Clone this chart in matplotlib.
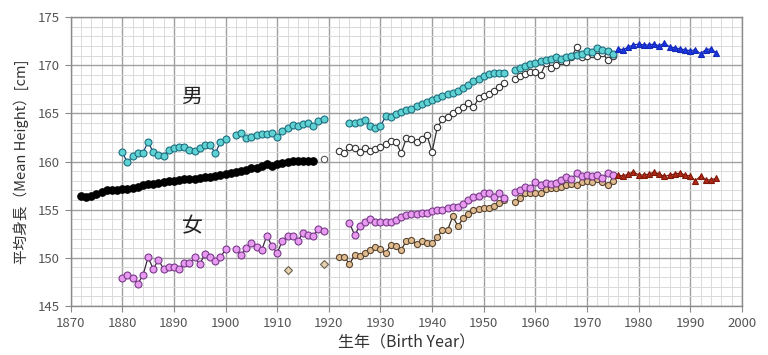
import matplotlib
matplotlib.use("Agg")
import matplotlib.pyplot as plt
from matplotlib.ticker import MultipleLocator

plt.rcParams['font.family'] = ['Noto Sans CJK JP', 'DejaVu Sans']

# ---------------- data ----------------
# Men, black (1872-1917)
m_black_years = list(range(1872, 1918))
m_black = [156.4, 156.3, 156.4, 156.6, 156.8, 157.0, 157.05, 157.05, 157.1, 157.1,
           157.25, 157.4, 157.6, 157.7, 157.7, 157.75, 157.85, 157.95, 158.0, 158.1,
           158.15, 158.2, 158.2, 158.3, 158.35, 158.4, 158.5, 158.6, 158.75, 158.85,
           158.95, 159.0, 159.15, 159.3, 159.35, 159.5, 159.7, 159.5, 159.7, 159.8,
           159.95, 160.1, 160.1, 160.1, 160.05, 160.1]

# Men, cyan (1880-1900, 1902-1919, 1924-1954, 1956-1975)
m_cyan_years_a = list(range(1880, 1901))
m_cyan_a = [160.95, 159.9, 160.6, 160.85, 160.9, 162.05, 160.95, 160.67, 160.6, 161.2,
            161.45, 161.5, 161.5, 161.2, 161.1, 161.4, 161.7, 161.75, 160.85, 162.0, 162.3]
m_cyan_years_b = list(range(1902, 1920))
m_cyan_b = [162.75, 163.0, 162.4, 162.57, 162.75, 162.85, 162.85, 163.0, 162.5, 163.2,
            163.44, 163.8, 163.7, 163.9, 164.0, 163.7, 164.2, 164.45]
m_cyan_years_c = list(range(1924, 1955))
m_cyan_c = [164.05, 164.05, 164.1, 164.35, 163.7, 163.5, 163.65, 164.7, 164.65, 164.93,
            165.17, 165.4, 165.5, 165.76, 165.97, 166.14, 166.38, 166.62, 166.83, 167.0,
            167.14, 167.35, 167.6, 167.94, 168.35, 168.6, 168.9, 169.05, 169.15, 169.2, 169.15]
m_cyan_years_d = list(range(1956, 1976))
m_cyan_d = [169.5, 169.7, 169.9, 170.1, 170.2, 170.4, 170.5, 170.6, 170.9, 170.6,
            170.9, 171.0, 171.1, 171.2, 171.5, 171.4, 171.8, 171.6, 171.5, 171.2]

# Men, open circles (1922-1954, 1956-1975)
m_open_years_a = list(range(1922, 1955))
m_open_a = [161.09, 160.91, 161.53, 161.36, 160.95, 161.36, 161.09, 161.26, 161.53, 161.8,
            162.12, 162.05, 160.85, 162.4, 162.3, 162.05, 162.3, 162.75, 161.0, 163.54,
            164.38, 164.58, 165.0, 165.34, 165.62, 166.1, 165.62, 166.55, 166.8, 166.97,
            167.35, 167.7, 168.18]
m_open_years_b = list(range(1956, 1976))
m_open_b = [168.53, 168.87, 169.08, 169.32, 169.32, 168.98, 170.19, 169.7, 170.0, 170.4,
            170.3, 170.8, 171.9, 170.9, 171.0, 171.2, 171.0, 171.3, 170.5, 171.0]
m_single_year = [1919]
m_single = [160.25]

# Men, blue triangles (1976-1995)
m_tri_years = list(range(1976, 1996))
m_tri = [171.7, 171.6, 171.9, 172.1, 172.2, 172.1, 172.1, 172.2, 172.0, 172.3,
         171.9, 171.8, 171.7, 171.6, 171.5, 171.6, 171.2, 171.6, 171.7, 171.3]

# Women, pink (1880-1900, 1902-1919, 1924-1954, 1956-1975)
w_pink_years_a = list(range(1880, 1901))
w_pink_a = [147.9, 148.2, 147.9, 147.3, 148.2, 150.05, 148.85, 149.8, 148.85, 149.07,
            149.07, 148.8, 149.42, 149.42, 150.05, 149.35, 150.39, 150.05, 149.7, 150.05, 150.88]
w_pink_years_b = list(range(1902, 1920))
w_pink_b = [150.9, 150.3, 150.98, 151.56, 151.08, 150.8, 152.3, 151.2, 150.5, 151.77,
            152.3, 152.27, 151.74, 152.6, 152.4, 152.3, 153.0, 152.8]
w_pink_years_c = list(range(1924, 1955))
w_pink_c = [153.65, 152.36, 153.3, 153.75, 154.0, 153.75, 153.75, 153.75, 153.75, 153.92,
            154.27, 154.44, 154.6, 154.6, 154.68, 154.68, 154.86, 154.96, 154.96, 155.13,
            155.3, 155.3, 155.58, 155.99, 156.34, 156.41, 156.69, 156.75, 156.34, 156.75, 156.17]
w_pink_years_d = list(range(1956, 1976))
w_pink_d = [156.8, 157.0, 157.35, 157.3, 157.85, 157.6, 157.8, 157.7, 157.8, 158.1,
            158.4, 158.2, 158.8, 158.5, 158.6, 158.5, 158.55, 158.3, 158.8, 158.6]

# Women, tan (1922-1954, 1956-1975)
w_tan_years_a = list(range(1922, 1955))
w_tan_a = [150.05, 150.12, 149.35, 150.3, 150.2, 150.46, 150.8, 151.09, 150.88, 150.53,
           151.32, 151.22, 150.8, 151.77, 151.84, 151.43, 151.77, 151.57, 151.5, 152.12,
           152.88, 152.88, 154.3, 153.3, 154.1, 154.6, 154.96, 155.03, 155.13, 155.13,
           155.37, 155.72, 156.0]
w_tan_years_b = list(range(1956, 1976))
w_tan_b = [155.8, 156.17, 156.76, 156.7, 156.76, 156.7, 157.1, 157.2, 157.2, 157.4,
           157.6, 157.7, 157.6, 157.9, 158.0, 157.9, 158.2, 157.9, 157.6, 158.0]
w_single_years = [1912, 1919]
w_single = [148.75, 149.4]

# Women, red triangles (1976-1995)
w_tri_years = list(range(1976, 1996))
w_tri = [158.6, 158.5, 158.7, 158.95, 158.6, 158.6, 158.7, 158.9, 158.7, 158.45,
         158.6, 158.7, 158.8, 158.6, 158.5, 158.0, 158.5, 158.1, 158.1, 158.25]

x_ticks = list(range(1870, 2001, 10))
y_ticks = list(range(145, 176, 5))

# ---------------- plot ----------------
fig = plt.figure(figsize=(7.68, 3.55), dpi=100)
ax = fig.add_axes([0.092, 0.138, 0.874, 0.814])

ax.set_xlim(1870, 2000)
ax.set_ylim(145, 175)
ax.xaxis.set_major_locator(MultipleLocator(10))
ax.xaxis.set_minor_locator(MultipleLocator(2))
ax.yaxis.set_major_locator(MultipleLocator(5))
ax.yaxis.set_minor_locator(MultipleLocator(1))
ax.grid(which='major', color='#a0a0a0', linewidth=1.0, zorder=0)
ax.grid(which='minor', color='#dadada', linewidth=0.7, zorder=0)
ax.set_axisbelow(True)
for s in ax.spines.values():
    s.set_color('#8a8a8a')
    s.set_linewidth(1.0)
ax.tick_params(which='major', direction='out', length=4, color='#8a8a8a',
               labelsize=9.5, labelcolor='#555555', pad=4)
ax.tick_params(which='minor', length=0)
ax.set_xticks(x_ticks)
ax.set_yticks(y_ticks)

ms = 4.6
lw = 0.9

def series(x, y, marker, face, edge, line, size=ms, z=3):
    ax.plot(x, y, color=line, linewidth=lw, marker=marker, markersize=size,
            markerfacecolor=face, markeredgecolor=edge, markeredgewidth=0.8, zorder=z)

# men
series(m_black_years, m_black, 'o', 'black', 'black', 'black', size=5.4, z=4)
for xs, ys in [(m_open_years_a, m_open_a), (m_open_years_b, m_open_b)]:
    series(xs, ys, 'o', 'white', '#333333', '#333333', size=4.6, z=3)
for xs, ys in [(m_cyan_years_a, m_cyan_a), (m_cyan_years_b, m_cyan_b),
               (m_cyan_years_c, m_cyan_c), (m_cyan_years_d, m_cyan_d)]:
    series(xs, ys, 'o', '#5fd3d3', '#1f6f80', '#1f3f70', size=5, z=4)
series(m_single_year, m_single, 'o', 'white', '#555555', '#555555', size=4.6)
series(m_tri_years, m_tri, '^', '#1a35e0', '#1228b8', '#1228b8', size=4.6, z=4)

# women
for xs, ys in [(w_tan_years_a, w_tan_a), (w_tan_years_b, w_tan_b)]:
    series(xs, ys, 'o', '#e0bb90', '#5a4630', '#3a2a1a', size=4.4, z=3)
for xs, ys in [(w_pink_years_a, w_pink_a), (w_pink_years_b, w_pink_b),
               (w_pink_years_c, w_pink_c), (w_pink_years_d, w_pink_d)]:
    series(xs, ys, 'o', '#e89af0', '#7a3a8a', '#3a2a3a', size=5, z=4)
ax.plot(w_single_years, w_single, linestyle='none', marker='D', markersize=3.6,
        markerfacecolor='#e6d2b0', markeredgecolor='#6a6050', markeredgewidth=0.8, zorder=3)
series(w_tri_years, w_tri, '^', '#b02818', '#801808', '#801808', size=4.6, z=4)

ax.text(1893.5, 166.7, '男', fontsize=15, ha='center', va='center', color='#222222')
ax.text(1893.5, 153.3, '女', fontsize=15, ha='center', va='center', color='#222222')

ax.set_xlabel('生年（Birth Year）', fontsize=11.5, color='#333333', labelpad=3)
ax.set_ylabel('平均身長（Mean Height）[cm]', fontsize=10.5, color='#333333', labelpad=6)

fig.savefig('out.png', dpi=100)
